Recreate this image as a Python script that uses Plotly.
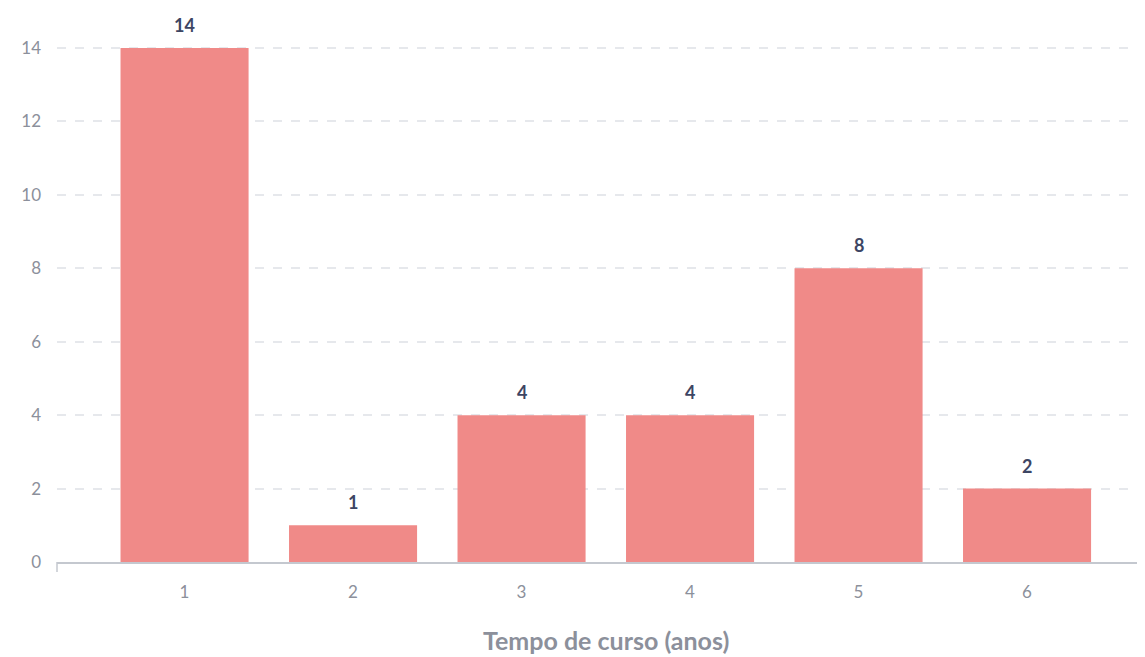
import plotly.graph_objects as go

categories = ["1", "2", "3", "4", "5", "6"]
values = [14, 1, 4, 4, 8, 2]
y_ticks = [0, 2, 4, 6, 8, 10, 12, 14]
x_title = "Tempo de curso (anos)"

fig = go.Figure(go.Bar(
    x=categories, y=values,
    marker=dict(color="#F08A88", line=dict(width=0)),
    cliponaxis=False, hoverinfo="x+y",
))

# category axis positions are indices 0..n-1
annotations = [
    dict(x=i, y=v, xref="x", yref="y", text="<b>%d</b>" % v, showarrow=False,
         yanchor="middle", yshift=23,
         font=dict(family="Lato", size=18, color="#3d4563"))
    for i, v in enumerate(values)
]
annotations.append(dict(
    text="<b>%s</b>" % x_title, xref="paper", yref="paper",
    x=0.5046, y=-0.1418, xanchor="center", yanchor="middle", showarrow=False,
    font=dict(family="Lato", size=25, color="#8c909b"),
))

fig.update_layout(
    width=1137, height=649,
    margin=dict(l=49, r=0, t=4, b=95, autoexpand=False),
    paper_bgcolor="white", plot_bgcolor="white",
    bargap=0.24,
    showlegend=False,
    font=dict(family="Lato", color="#8c909b"),
    xaxis=dict(
        type="category", range=[-0.757, 5.70], automargin=False,
        showgrid=False, showline=True, linecolor="#c4c8cf", linewidth=1.5,
        ticks="", tickfont=dict(size=17, color="#8c909b"), ticklabelstandoff=14,
    ),
    yaxis=dict(
        range=[0, 14.98], tickvals=y_ticks, automargin=False,
        showgrid=True, gridcolor="#e6e8ec", griddash="dash", gridwidth=1.5,
        zeroline=False, showline=False,
        tickfont=dict(size=17, color="#8c909b"), ticklabelstandoff=15,
    ),
    annotations=annotations,
    shapes=[dict(type="line", xref="paper", yref="paper", x0=0, x1=0, y0=0, y1=-0.018,
                 line=dict(color="#c4c8cf", width=1.5))],
)

fig.write_html("out.html")
